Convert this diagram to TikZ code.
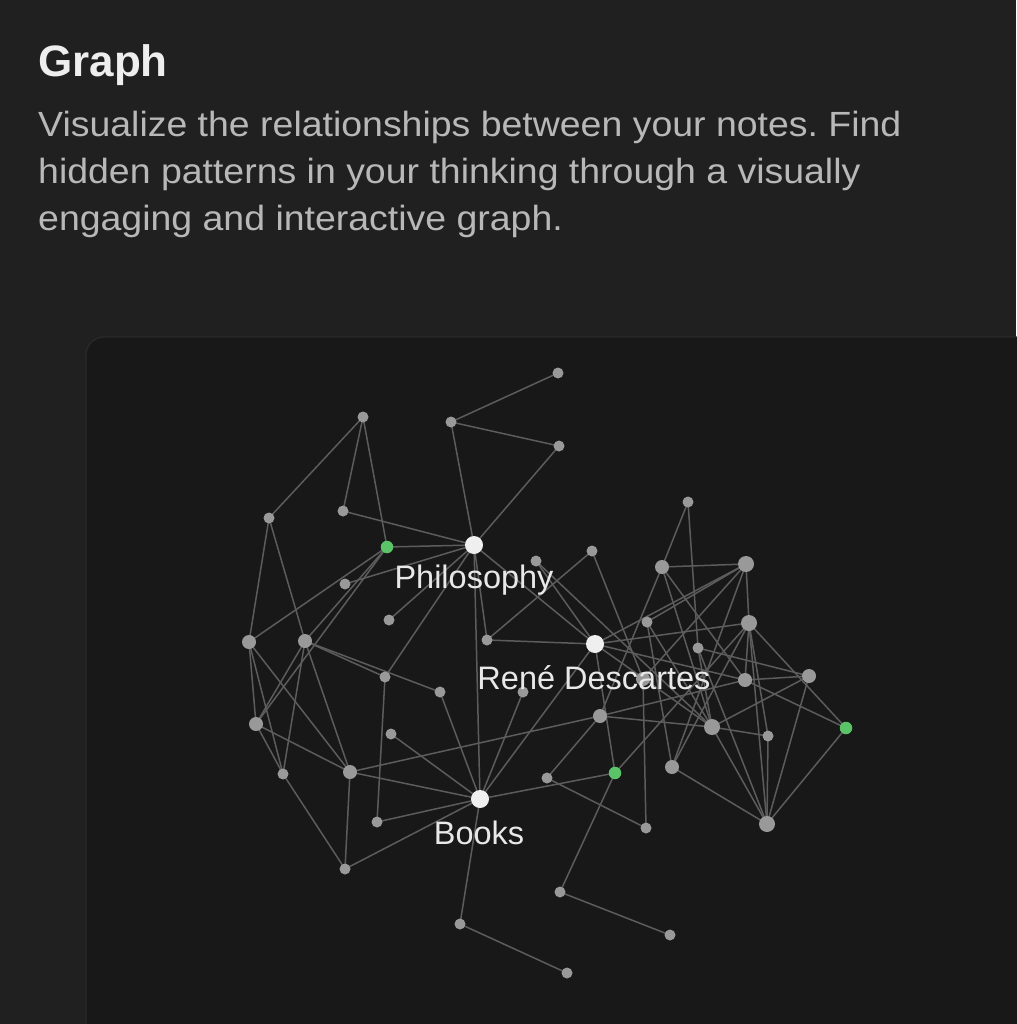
\documentclass[tikz,border=0pt]{standalone}
\usepackage{fontspec}
\setmainfont{Liberation Sans}
\newfontfamily\bodyfont[FakeStretch=1.07]{Liberation Sans}
\frenchspacing
\usetikzlibrary{backgrounds}
\definecolor{bgouter}{HTML}{202020}
\definecolor{panelc}{HTML}{181818}
\definecolor{panelb}{HTML}{2A2A2A}
\definecolor{edgegray}{HTML}{5C5C5C}
\definecolor{nodegray}{HTML}{999999}
\definecolor{nodewhite}{HTML}{EFEFEF}
\definecolor{nodegreen}{HTML}{5BC469}
\definecolor{titlec}{HTML}{EEEEEE}
\definecolor{bodyc}{HTML}{B8B8B8}
\definecolor{labelc}{HTML}{E8E8E8}
\tikzset{
 gn/.style={circle, fill=nodegray, inner sep=0pt, minimum size=11pt},
 gm/.style={gn, minimum size=14pt},
 gl/.style={gn, minimum size=16pt},
 wn/.style={circle, fill=nodewhite, inner sep=0pt, minimum size=18pt},
 grn/.style={circle, fill=nodegreen, inner sep=0pt, minimum size=12.5pt},
 edge/.style={draw=edgegray, line width=1.5pt},
 lbl/.style={text=labelc, inner sep=0pt, font=\fontsize{32.5}{36}\selectfont},
 bodytxt/.style={text=bodyc, inner sep=0pt, anchor=base west, font=\bodyfont\fontsize{35}{42}\selectfont},
}
\begin{document}
\begin{tikzpicture}[x=1pt,y=-1pt]
\useasboundingbox (0,0) rectangle (1016,1024);
% text
\node[text=titlec, inner sep=0pt, anchor=base west, font=\bfseries\fontsize{44}{50}\selectfont] (title) at (38,77) {Graph};
\node[bodytxt] (l1) at (38,137) {Visualize the relationships between your notes. Find};
\node[bodytxt] (l2) at (38,184) {hidden patterns in your thinking through a visually};
\node[bodytxt] (l3) at (38,230) {engaging and interactive graph.};
% nodes
\node[gn] (a1) at (558,373) {};
\node[gn] (a2) at (451,422) {};
\node[gn] (a3) at (559,446) {};
\node[gn] (a4) at (363,417) {};
\node[gn] (a5) at (269,518) {};
\node[gn] (a6) at (343,511) {};
\node[grn] (G1) at (387,547) {};
\node[wn] (P) at (474,545) {};
\node[gn] (a7) at (345,584) {};
\node[gn] (a8) at (389,620) {};
\node[gn] (a9) at (536,561) {};
\node[gn] (a10) at (592,551) {};
\node[gn] (a11) at (688,502) {};
\node[gm] (a12) at (662,567) {};
\node[gl] (a13) at (746,564) {};
\node[gn] (a14) at (487,640) {};
\node[wn] (R) at (595,644) {};
\node[gn] (a15) at (647,622) {};
\node[gl] (a16) at (749,623) {};
\node[gn] (a17) at (698,648) {};
\node[gm] (a18) at (745,680) {};
\node[gm] (a19) at (809,676) {};
\node[gm] (a42) at (643,679) {};
\node[gm] (a20) at (249,642) {};
\node[gm] (a21) at (305,641) {};
\node[gn] (a22) at (385,677) {};
\node[gn] (a23) at (440,692) {};
\node[gn] (a24) at (523,692) {};
\node[gm] (a25) at (600,716) {};
\node[gl] (a26) at (712,727) {};
\node[gn] (a27) at (768,736) {};
\node[grn] (G3) at (846,728) {};
\node[gm] (a28) at (256,724) {};
\node[gn] (a29) at (391,734) {};
\node[gn] (a30) at (283,774) {};
\node[gm] (a31) at (350,772) {};
\node[grn] (G2) at (615,773) {};
\node[gn] (a32) at (547,778) {};
\node[gm] (a33) at (672,767) {};
\node[wn] (B) at (480,799) {};
\node[gn] (a34) at (377,822) {};
\node[gn] (a35) at (646,828) {};
\node[gl] (a36) at (767,824) {};
\node[gn] (a37) at (345,869) {};
\node[gn] (a38) at (560,892) {};
\node[gn] (a39) at (460,924) {};
\node[gn] (a40) at (670,935) {};
\node[gn] (a41) at (567,973) {};
% labels
\node[lbl] (lP) at (474,580) {Philosophy};
\node[lbl] (lR) at (594,678) {René Descartes};
\node[lbl] (lB) at (479,833) {Books};
\begin{pgfonlayer}{background}
\fill[bgouter] (0,0) rectangle (1016,1024);
\filldraw[fill=panelc, draw=panelb, line width=1.2pt, rounded corners=18pt] (86,337) rectangle (1040,1050);
\foreach \u/\v in {a1/a2, a2/a3, a2/P, a3/P,
 a4/a5, a4/a6, a4/G1, a6/P, G1/P,
 a5/a20, a5/a21, G1/a20, G1/a21, G1/a28,
 a7/P, a8/P, P/a22, P/a14, P/B, P/R,
 a20/a28, a20/a30, a20/a31, a21/a28, a21/a30, a21/a31, a21/a22, a21/a23,
 a22/a34, a28/a30, a28/a31, a30/a37, a31/a37, a31/B, a31/a25,
 a29/B, a34/B, a37/B, a23/B, a24/B, R/B, G2/B,
 a32/a35, a32/a25, G2/a38, a38/a40, B/a39, a39/a41,
 a42/a35, R/G2, G2/a16,
 a10/a14, a10/a42, a9/R, a9/a26, R/a14, R/a13, R/a16, R/a18, R/a26,
 a11/a12, a11/a17, a12/a13, a12/a18, a12/a26, a12/a25,
 a13/a16, a13/a42, a13/a33, a15/a13, a15/a33, a15/a26,
 a16/a18, a16/G3, a16/a36, a16/a33, a16/a27,
 a17/a19, a17/a26, a17/a36,
 a18/a19, a18/G3, a18/a25,
 a19/a26, a19/a36, G3/a36, a26/a27, a26/a36, a27/a36, a25/a26, a33/a36}
 {\draw[edge] (\u.center) -- (\v.center);}
\end{pgfonlayer}
\end{tikzpicture}
\end{document}
